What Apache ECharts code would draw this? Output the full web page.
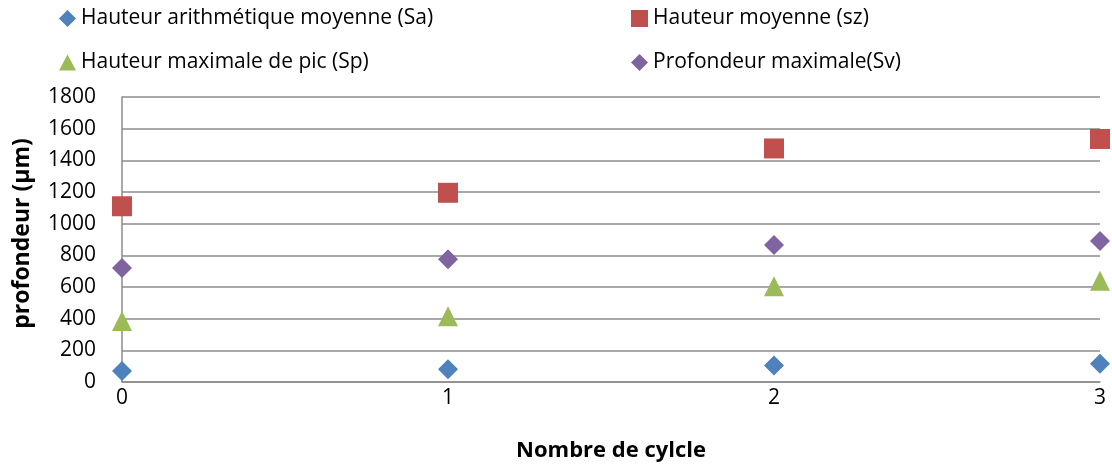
<!DOCTYPE html>
<html>
<head>
<meta charset="utf-8">
<script src="https://cdn.jsdelivr.net/npm/echarts@6/dist/echarts.min.js"></script>
<style>
  html, body { margin: 0; padding: 0; background: #fff; }
  #chart { width: 1112px; height: 467px; }
</style>
</head>
<body>
<div id="chart"></div>
<script>
// Number of cycles and the surface roughness parameters measured at each one (µm)
const cycles = [0, 1, 2, 3];
const sa = [70, 80, 105, 115];        // Hauteur arithmétique moyenne (Sa)
const sz = [1110, 1195, 1475, 1535];  // Hauteur moyenne (sz)
const sp = [385, 415, 605, 640];      // Hauteur maximale de pic (Sp)
const sv = [720, 775, 865, 890];      // Profondeur maximale (Sv)
const yTicks = [0, 200, 400, 600, 800, 1000, 1200, 1400, 1600, 1800];

const names = [
  'Hauteur arithmétique moyenne (Sa)',
  'Hauteur moyenne (sz)',
  'Hauteur maximale de pic (Sp)',
  'Profondeur maximale(Sv)'
];
const colors = ['#4F81BD', '#C0504D', '#9BBB59', '#8064A2'];
const symbols = ['diamond', 'rect', 'triangle', 'diamond'];
const values = [sa, sz, sp, sv];

const font = '"Open Sans", sans-serif';
const gridColor = '#8c8c8c';

// one legend block per item, laid out as two columns of two rows
const legendPos = [
  { left: 59, top: 8 },
  { left: 631, top: 8 },
  { left: 59, top: 52 },
  { left: 631, top: 52 }
];
const legendIcon = [
  { w: 17, h: 17 },
  { w: 17, h: 17 },
  { w: 17, h: 16 },
  { w: 17, h: 17 }
];

const chart = echarts.init(document.getElementById('chart'));
chart.setOption({
  animation: false,
  backgroundColor: '#fff',
  legend: names.map((n, i) => ({
    data: [{ name: n, icon: symbols[i] }],
    left: legendPos[i].left,
    top: legendPos[i].top,
    itemWidth: legendIcon[i].w,
    itemHeight: legendIcon[i].h,
    itemGap: 4,
    padding: 0,
    selectedMode: false,
    textStyle: { fontFamily: font, fontSize: 21, color: '#000' }
  })),
  grid: { left: 122, right: 12, top: 97, bottom: 84 },
  xAxis: {
    type: 'value',
    min: 0,
    max: 3,
    interval: 1,
    name: 'Nombre de cylcle',
    nameLocation: 'middle',
    nameGap: 58,
    nameTextStyle: { fontFamily: font, fontSize: 22, fontWeight: 'bold', color: '#000' },
    axisLine: { show: true, lineStyle: { color: gridColor, width: 1.5 } },
    axisTick: { show: false },
    splitLine: { show: false },
    axisLabel: { fontFamily: font, fontSize: 21, color: '#000', margin: 6 }
  },
  yAxis: {
    type: 'value',
    min: yTicks[0],
    max: yTicks[yTicks.length - 1],
    interval: yTicks[1] - yTicks[0],
    name: 'profondeur (µm)',
    nameLocation: 'middle',
    nameGap: 88,
    nameTextStyle: { fontFamily: font, fontSize: 23, fontWeight: 'bold', color: '#000', padding: [0, 0, 0, 12] },
    axisLine: { show: true, lineStyle: { color: gridColor, width: 1.5 } },
    axisTick: { show: false },
    splitLine: { show: true, lineStyle: { color: gridColor, width: 1.5 } },
    axisLabel: { fontFamily: font, fontSize: 21, color: '#000', margin: 26, formatter: v => String(v) }
  },
  series: names.map((n, i) => ({
    name: n,
    type: 'scatter',
    symbol: symbols[i],
    symbolSize: 20,
    itemStyle: { color: colors[i], opacity: 1 },
    data: cycles.map((c, k) => [c, values[i][k]]),
    z: 3
  }))
});
</script>
</body>
</html>
